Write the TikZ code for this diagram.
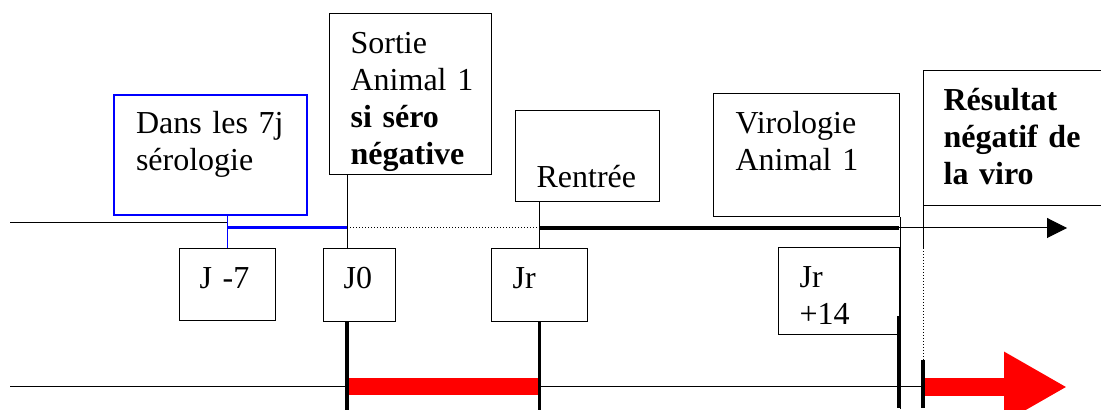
\documentclass[tikz,border=0pt]{standalone}
\usepackage{fontspec}
\setmainfont{Liberation Serif}
\usetikzlibrary{arrows.meta}
\begin{document}
\begin{tikzpicture}[x=0.5pt,y=-0.5pt,
  box/.style={draw,line width=0.6pt,anchor=north west,inner ysep=0pt,align=left,
    font=\fontsize{16}{18.5}\selectfont},
  thin/.style={line width=0.5pt},
  heavy/.style={line width=1.8pt}]
\useasboundingbox (0,0) rectangle (1101,410);
% boxes over the axis
\node[box,draw=blue,line width=1pt,inner xsep=11pt,text width=74.5pt,text height=19.5pt,text depth=40.5pt] (sero) at (113,94) {Dans les~7j\\sérologie};
\node[box,inner xsep=10.5pt,text width=60pt,text height=20pt,text depth=60.5pt] (sortie) at (329,13) {Sortie\\Animal~1\\\textbf{si~séro}\\\textbf{négative}};
\node[box,inner xsep=10.5pt,text width=51pt,text height=38.5pt,text depth=7pt] (rentree) at (515,110) {Rentrée};
\node[box,inner xsep=11pt,text width=71pt,text height=20pt,text depth=41.5pt] (viro) at (713,93) {Virologie\\Animal~1};
\node[box,inner xsep=10pt,text width=80pt,text height=20pt,text depth=47.5pt,font=\fontsize{16}{18.5}\selectfont\bfseries] (res) at (923,70) {Résultat\\négatif~de\\la~viro};
% day boxes
\node[box,inner xsep=10pt,text width=28pt,text height=20pt,text depth=16pt] (jm7) at (179,248) {J~-7};
\node[box,inner xsep=10pt,text width=16pt,text height=20pt,text depth=16.5pt] (j0) at (323,248) {J0};
\node[box,inner xsep=10.5pt,text width=27pt,text height=20pt,text depth=16.5pt] (jr) at (491,248) {Jr};
\node[box,inner xsep=10.5pt,text width=39.5pt,text height=20pt,text depth=23.5pt] (jr14) at (778,247) {Jr\\+14};
% points on the axes
\coordinate (start) at (10,223);
\coordinate (t0) at (347,228);
\coordinate (tr) at (539,228);
\coordinate (t14) at (899,228);
\coordinate (tend) at (1067,228);
\coordinate (base) at (10,387);
\coordinate (redend) at (1067,387);
\coordinate (b14) at (899,316);
\coordinate (dres) at (923,248);
\coordinate (hres) at (923,360);
% lower axis
\draw[thin] (base) -- (base -| res.south west);
\draw[red,line width=8.5pt] (base -| t0) -- (base -| tr);
\draw[red,line width=9pt,-{Triangle[length=31.5pt,width=33pt]}] (base -| res.south west) -- (redend);
% upper axis
\draw[thin] (start) -- (start -| jm7.north);
\draw[blue,line width=0.7pt] (sero.south -| jm7.north) -- (jm7.north);
\draw[blue,line width=1.5pt] (jm7.north |- t0) -- (t0);
\draw[thin,densely dotted] (t0) -- (tr);
\draw[line width=2pt] (tr) -- (t14);
\draw[thin,-{Triangle[length=10pt,width=10pt]}] (t14) -- (tend);
% ticks
\draw[thin] (t0 |- sortie.south) -- (t0 |- j0.north);
\draw[heavy] (t0 |- j0.south) -- ++(0,90);
\draw[thin] (rentree.south -| jr.north) -- (jr.north);
\draw[heavy] (jr.south) -- ++(0,90);
\draw[thin] (viro.south east) -- ++(0,192);
\draw[heavy] (b14) -- ++(0,92);
\draw[thin] (res.south west) -- (dres);
\draw[thin,densely dotted] (dres) -- (hres);
\draw[heavy] (hres) -- ++(0,48);
\end{tikzpicture}
\end{document}
